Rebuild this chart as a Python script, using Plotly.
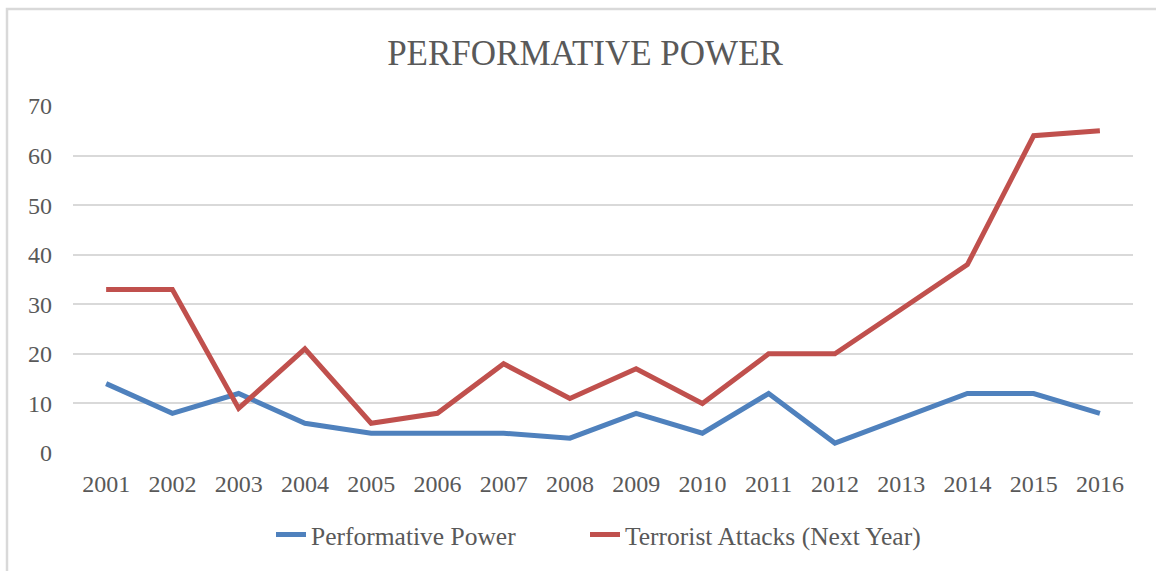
import plotly.graph_objects as go

years = ["2001", "2002", "2003", "2004", "2005", "2006", "2007", "2008",
         "2009", "2010", "2011", "2012", "2013", "2014", "2015", "2016"]
performative_power = [14, 8, 12, 6, 4, 4, 4, 3, 8, 4, 12, 2, 7, 12, 12, 8]
terrorist_attacks_next_year = [33, 33, 9, 21, 6, 8, 18, 11, 17, 10, 20, 20, 29, 38, 64, 65]
y_ticks = [0, 10, 20, 30, 40, 50, 60, 70]

FONT = "Liberation Serif"
TEXT = "#595959"
GRID = "#D9D9D9"

W, H = 1156, 571
L, R, T, B = 73, 23, 106, 118
PW, PH = W - L - R, H - T - B


def px_x(x):
    """Pixel column -> paper x of the plot area."""
    return (x - L) / PW


def px_y(y):
    """Pixel row -> paper y of the plot area."""
    return 1 - (y - T) / PH


fig = go.Figure()
fig.add_trace(go.Scatter(
    x=years, y=performative_power, mode="lines", name="Performative Power",
    line=dict(color="#4F81BD", width=5), legend="legend",
))
fig.add_trace(go.Scatter(
    x=years, y=terrorist_attacks_next_year, mode="lines",
    name="Terrorist Attacks (Next Year)",
    line=dict(color="#C0504D", width=5), legend="legend2",
))

legend_style = dict(orientation="h", yanchor="middle", xanchor="left",
                    font=dict(family=FONT, size=25.5, color=TEXT),
                    bgcolor="rgba(0,0,0,0)")

fig.update_layout(
    width=W, height=H,
    margin=dict(l=L, r=R, t=T, b=B),
    paper_bgcolor="white", plot_bgcolor="white",
    font=dict(family=FONT, size=24, color=TEXT),
    title=dict(text="PERFORMATIVE POWER", x=585 / W, xanchor="center",
               y=1 - 53 / H, yanchor="middle",
               font=dict(family=FONT, size=35, color=TEXT)),
    showlegend=True,
    legend=dict(x=px_x(271), y=px_y(535), **legend_style),
    legend2=dict(x=px_x(585), y=px_y(535), **legend_style),
    shapes=[dict(type="rect", xref="paper", yref="paper",
                 x0=px_x(7), x1=px_x(1170), y0=px_y(590), y1=px_y(9),
                 line=dict(color=GRID, width=2.5), fillcolor="rgba(0,0,0,0)",
                 layer="below")],
)
fig.update_xaxes(type="category", range=[-0.5, len(years) - 0.5],
                 showgrid=False, zeroline=False, showline=False,
                 ticks="", ticklabelstandoff=14,
                 tickfont=dict(family=FONT, size=24, color=TEXT))
fig.update_yaxes(range=[0, 70], tickvals=y_ticks, showgrid=True, gridcolor=GRID,
                 gridwidth=1.5, zeroline=False, showline=False, ticks="",
                 ticklabelstandoff=20,
                 tickfont=dict(family=FONT, size=24, color=TEXT))

fig.write_html("out.html")
